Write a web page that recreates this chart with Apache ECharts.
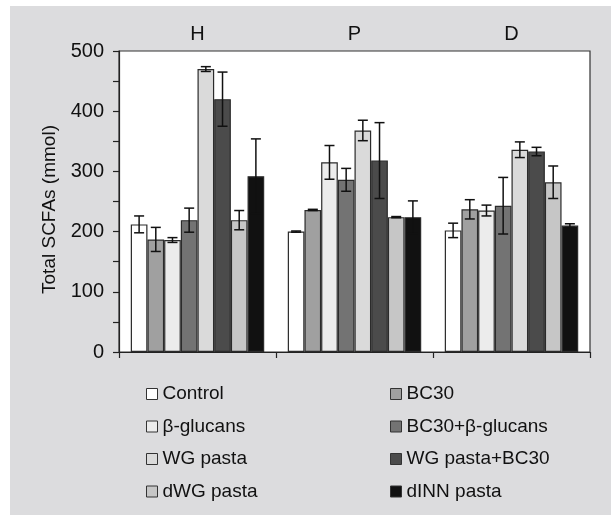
<!DOCTYPE html>
<html>
<head>
<meta charset="utf-8">
<script src="https://cdn.jsdelivr.net/npm/echarts@6/dist/echarts.min.js"></script>
<style>
  html, body { margin: 0; padding: 0; background: #fff; }
  #chart { width: 611px; height: 515px; }
</style>
</head>
<body>
<div id="chart"></div>
<script>
const categories = ['H', 'P', 'D']
const seriesNames = ['Control', 'BC30', 'β-glucans', 'BC30+β-glucans', 'WG pasta', 'WG pasta+BC30', 'dWG pasta', 'dINN pasta']
const barColors = ['#ffffff', '#a0a0a0', '#ececec', '#737373', '#dadada', '#4b4b4b', '#c6c6c6', '#111111']

// mean values per group (H, P, D)
const control = [212, 200, 202]
const bc30 = [187, 236, 237]
const bGlucans = [186, 315, 235]
const bc30Glucans = [219, 286, 243]
const wgPasta = [470, 368, 336]
const wgPastaBc30 = [420, 318, 333]
const dwgPasta = [219, 224, 282]
const dinnPasta = [292, 224, 210]

// error (half-length of the error bars)
const controlErr = [14, 1, 12]
const bc30Err = [20, 1, 16]
const bGlucansErr = [4, 28, 9]
const bc30GlucansErr = [20, 19, 47]
const wgPastaErr = [4, 17, 13]
const wgPastaBc30Err = [45, 63, 7]
const dwgPastaErr = [16, 1, 27]
const dinnPastaErr = [62, 27, 3]

const yTicks = [0, 100, 200, 300, 400, 500]

const means = [control, bc30, bGlucans, bc30Glucans, wgPasta, wgPastaBc30, dwgPasta, dinnPasta]
const errs = [controlErr, bc30Err, bGlucansErr, bc30GlucansErr, wgPastaErr, wgPastaBc30Err, dwgPastaErr, dinnPastaErr]

const font = "'Liberation Sans', Arial, sans-serif"
const catGap = 0.15

let errData = []
means.forEach((arr, i) => {
    arr.forEach((v, j) => {
        errData.push([j, i, v - errs[i][j], v + errs[i][j]])
    })
})

let barSeries = seriesNames.map((name, i) => ({
    name: name,
    type: 'bar',
    xAxisIndex: 0,
    data: means[i],
    barGap: '0%',
    barCategoryGap: (catGap * 100) + '%',
    itemStyle: {
        color: barColors[i],
        borderColor: '#2b2b2b',
        borderWidth: 1.2
    },
    emphasis: { disabled: true }
}))

let errSeries = {
    type: 'custom',
    xAxisIndex: 0,
    z: 10,
    silent: true,
    data: errData,
    renderItem: (params, api) => {
        let cat = api.value(0)
        let s = api.value(1)
        let band = api.size([1, 0])[0]
        let bw = band * (1 - catGap) / seriesNames.length
        let x = api.coord([cat, 0])[0] + (s - (seriesNames.length - 1) / 2) * bw
        let yLo = api.coord([cat, api.value(2)])[1]
        let yHi = api.coord([cat, api.value(3)])[1]
        let cap = 5
        let style = { stroke: '#111', lineWidth: 1.5 }
        return {
            type: 'group',
            children: [
                { type: 'line', shape: { x1: x, y1: yLo, x2: x, y2: yHi }, style: style },
                { type: 'line', shape: { x1: x - cap, y1: yHi, x2: x + cap, y2: yHi }, style: style },
                { type: 'line', shape: { x1: x - cap, y1: yLo, x2: x + cap, y2: yLo }, style: style }
            ]
        }
    }
}

const legendBase = {
    orient: 'vertical',
    icon: 'rect',
    height: 140,
    padding: 0,
    itemWidth: 11,
    itemHeight: 11,
    itemGap: 12.5,
    itemTextGap: 5,
    selectedMode: false,
    itemStyle: { borderColor: '#333', borderWidth: 1 },
    textStyle: { fontFamily: font, fontSize: 19, color: '#111', lineHeight: 20 }
}

let myChart = echarts.init(document.getElementById('chart'))
myChart.setOption({
    animation: false,
    backgroundColor: '#ffffff',
    graphic: [{
        type: 'rect',
        z: -10,
        shape: { x: 10, y: 6, width: 601, height: 509 },
        style: { fill: '#dcdcde' }
    }],
    grid: {
        left: 119, top: 51, right: 21, bottom: 163,
        show: true,
        backgroundColor: '#ffffff',
        borderColor: '#333',
        borderWidth: 1.2
    },
    legend: [
        Object.assign({}, legendBase, { left: 146, top: 384, data: [seriesNames[0], seriesNames[2], seriesNames[4], seriesNames[6]] }),
        Object.assign({}, legendBase, { left: 390, top: 384, data: [seriesNames[1], seriesNames[3], seriesNames[5], seriesNames[7]] })
    ],
    xAxis: [{
        type: 'category',
        data: categories,
        position: 'bottom',
        axisLine: { lineStyle: { color: '#222', width: 1.2 } },
        axisTick: { show: true, length: 6, lineStyle: { color: '#222', width: 1.2 } },
        axisLabel: { show: false }
    }, {
        type: 'category',
        data: categories,
        position: 'top',
        axisLine: { show: false },
        axisTick: { show: false },
        axisLabel: { fontFamily: font, fontSize: 20, color: '#111', margin: 7 }
    }],
    yAxis: {
        type: 'value',
        min: yTicks[0],
        max: yTicks[yTicks.length - 1],
        interval: 100,
        name: 'Total SCFAs (mmol)',
        nameLocation: 'middle',
        nameGap: 59,
        nameTextStyle: { fontFamily: font, fontSize: 19, color: '#111', padding: [0, 16, 0, 0] },
        axisLine: { show: true, lineStyle: { color: '#222', width: 1.2 } },
        axisTick: { show: true, length: 6, lineStyle: { color: '#222', width: 1.2 } },
        minorTick: { show: true, splitNumber: 2, length: 6, lineStyle: { color: '#222', width: 1.2 } },
        axisLabel: { fontFamily: font, fontSize: 20, color: '#111', margin: 15 },
        splitLine: { show: false }
    },
    series: barSeries.concat([errSeries])
})
</script>
</body>
</html>
